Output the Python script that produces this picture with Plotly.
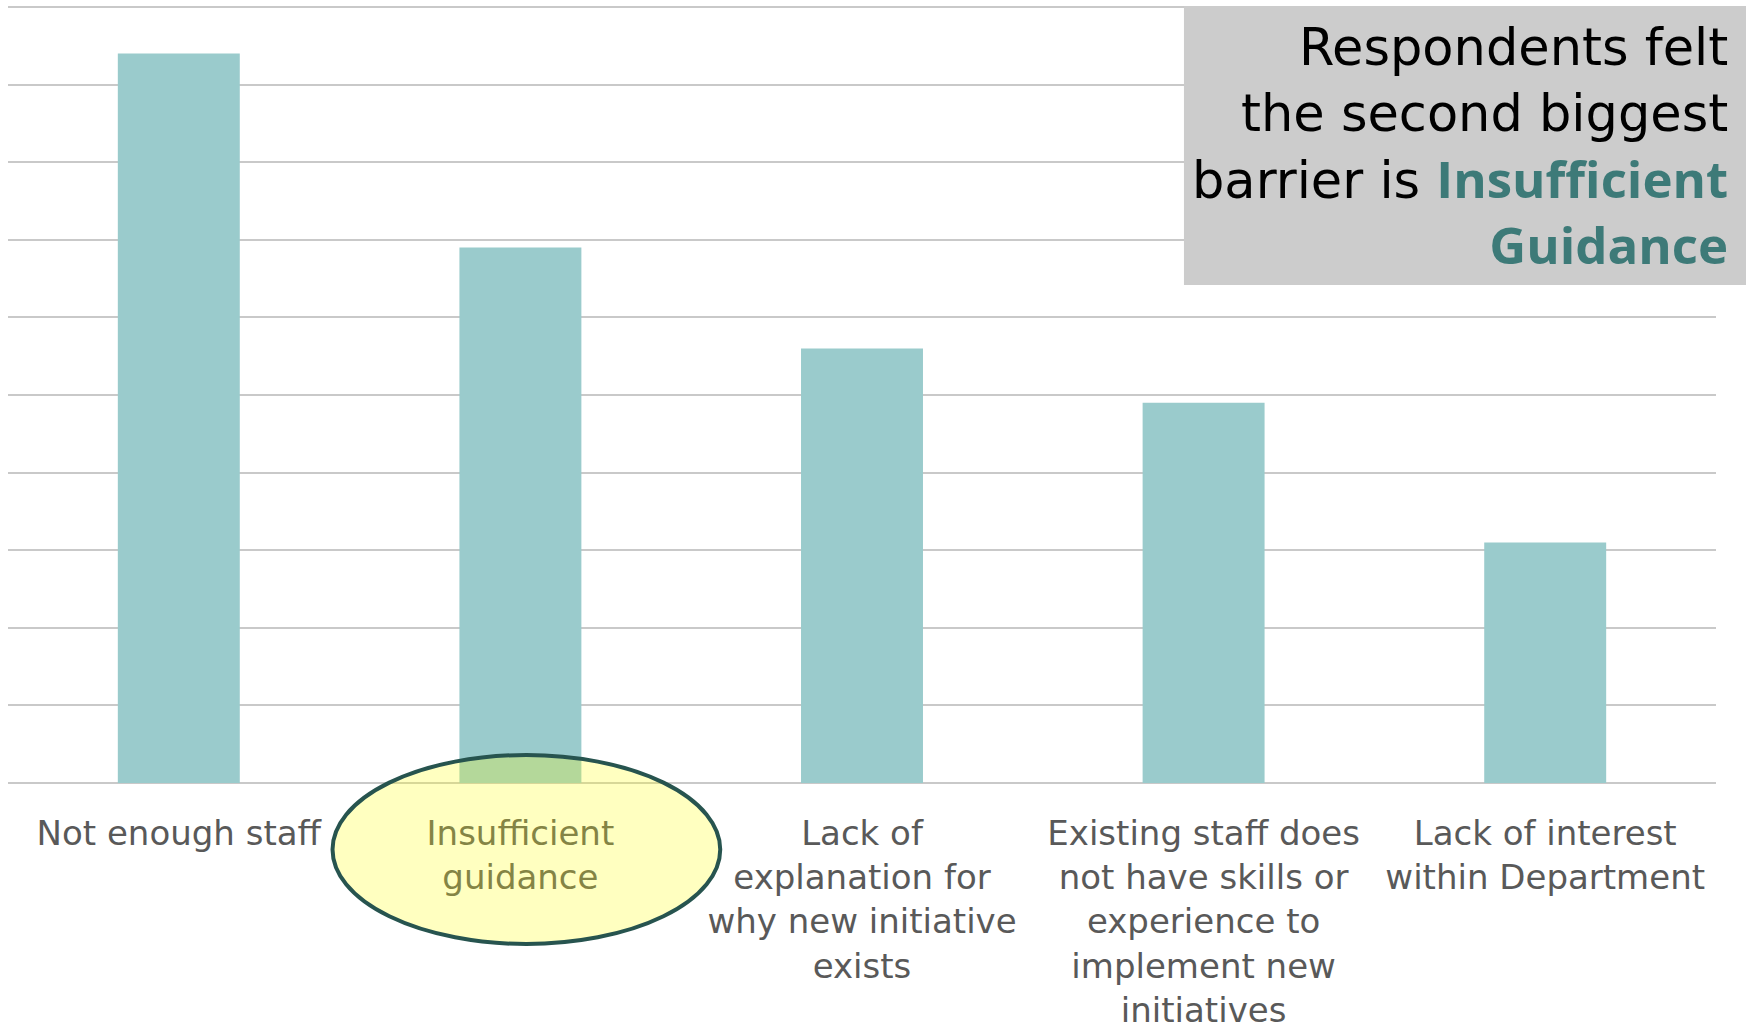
import plotly.graph_objects as go

# Survey: barriers to implementing new initiatives
categories = [
    "Not enough staff",
    "Insufficient<br>guidance",
    "Lack of<br>explanation for<br>why new initiative<br>exists",
    "Existing staff does<br>not have skills or<br>experience to<br>implement new<br>initiatives",
    "Lack of interest<br>within Department",
]
responses = [94, 69, 56, 49, 31]
highlight_index = 1

BAR_COLOR = "#9ACBCC"
GRID_COLOR = "#C9C9C9"
LABEL_COLOR = "#595959"
ACCENT = "#3D7A78"
FONT = "DejaVu Sans"
BOLD_FONT = "Open Sans"

fig = go.Figure(
    go.Bar(
        x=categories,
        y=responses,
        marker=dict(color=BAR_COLOR, line=dict(width=0)),
        hoverinfo="skip",
    )
)

fig.update_layout(
    width=1746,
    height=1025,
    margin=dict(l=8, r=30, t=5, b=240, autoexpand=False),
    paper_bgcolor="white",
    plot_bgcolor="white",
    bargap=0.643,
    showlegend=False,
    font=dict(family=FONT, color=LABEL_COLOR),
)

fig.update_xaxes(
    showgrid=False,
    showline=False,
    zeroline=False,
    ticks="",
    tickfont=dict(family=FONT, size=34, color=LABEL_COLOR),
    tickangle=0,
    ticklabelstandoff=25,
    automargin=False,
)
# Padding on both ends keeps the 0 and 100 gridlines visible
fig.update_yaxes(
    range=[-0.25, 100.25],
    tick0=0,
    dtick=10,
    showticklabels=False,
    showgrid=True,
    gridcolor=GRID_COLOR,
    gridwidth=2,
    zeroline=False,
    showline=False,
    automargin=False,
)

# Callout box in the upper right corner
fig.add_shape(
    type="rect",
    xref="paper", yref="paper",
    x0=0.6885, x1=1.02, y0=0.641, y1=0.9987,
    fillcolor="#CCCCCC",
    line=dict(width=0),
    layer="above",
)


def emphasis(word):
    return (
        f"<span style='font-family:{BOLD_FONT};font-weight:bold;"
        f"color:{ACCENT}'>{word}</span>"
    )


fig.add_annotation(
    xref="paper", yref="paper",
    x=1.008, y=0.986,
    xanchor="right", yanchor="top",
    align="right",
    showarrow=False,
    text=(
        "Respondents felt<br>the second biggest<br>barrier is "
        f"{emphasis('Insufficient')}<br>{emphasis('Guidance')}"
    ),
    font=dict(family=FONT, size=51, color="#000000"),
)

# Highlight ring around the second category label
fig.add_shape(
    type="circle",
    xref="x", yref="paper",
    x0=highlight_index - 0.55, x1=highlight_index + 0.585,
    y0=-0.2038, y1=0.0385,
    fillcolor="rgba(255,255,13,0.26)",
    line=dict(color="#27544F", width=4),
    layer="above",
)

fig.write_html("out.html")
